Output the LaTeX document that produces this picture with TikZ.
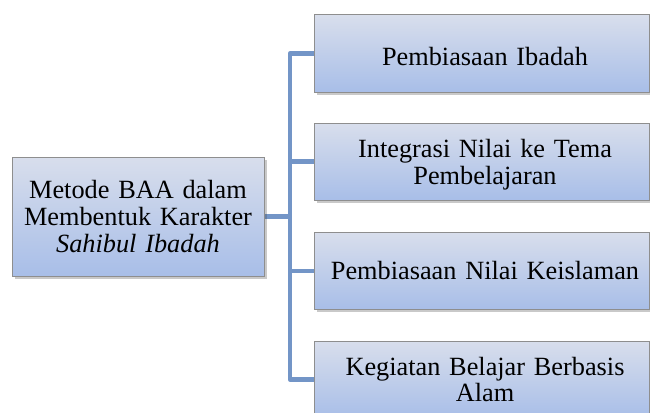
\documentclass[tikz,border=0pt]{standalone}
\usepackage{fontspec}
\setmainfont{Liberation Serif}
\usetikzlibrary{shadows,backgrounds}
\definecolor{boxtop}{HTML}{D8DEEC}
\definecolor{boxbot}{HTML}{A8BEE8}
\definecolor{boxline}{HTML}{8E8E8E}
\definecolor{conncol}{HTML}{7395C7}
\newcommand{\topstrut}{\rule{0pt}{25pt}}
\tikzset{
  box/.style={rectangle, draw=boxline, line width=1pt, top color=boxtop, bottom color=boxbot,
    align=center, inner sep=2pt, font=\fontsize{26.3}{26.6}\selectfont,
    drop shadow={shadow xshift=2.5pt, shadow yshift=-2.5pt, opacity=0.3, fill=black!70}},
  rbox/.style={box, minimum width=335pt, minimum height=77pt, text width=325pt},
  conn/.style={draw=conncol, line width=4.5pt, line join=round}
}
\begin{document}
\begin{tikzpicture}[x=1pt,y=-1pt]
\useasboundingbox (0,0) rectangle (650,412);
\node[box, minimum width=252pt, minimum height=119pt, text width=245pt] (root) at (138,216.5)
  {Metode BAA dalam\\Membentuk Karakter\\\textit{Sahibul Ibadah}};
\node[rbox] (b1) at (481.5,53.5) {\hspace*{7pt}\topstrut Pembiasaan Ibadah};
\node[rbox] (b2) at (481.5,161.5) {\hspace*{7pt}\topstrut Integrasi Nilai ke Tema\\\hspace*{7pt}Pembelajaran};
\node[rbox] (b3) at (481.5,271) {\hspace*{7pt}Pembiasaan Nilai Keislaman};
\node[rbox] (b4) at (481.5,379.5) {\hspace*{7pt}Kegiatan Belajar Berbasis\\\hspace*{7pt}Alam};
\coordinate (sp) at (290,0);
\begin{scope}[on background layer]
\draw[conn] (b1.west) -- (b1.west -| sp) -- (b4.west -| sp) -- (b4.west);
\draw[conn] (root.east) -- (root.east -| sp);
\draw[conn] (b2.west -| sp) -- (b2.west);
\draw[conn] (b3.west -| sp) -- (b3.west);
\end{scope}
\end{tikzpicture}
\end{document}
